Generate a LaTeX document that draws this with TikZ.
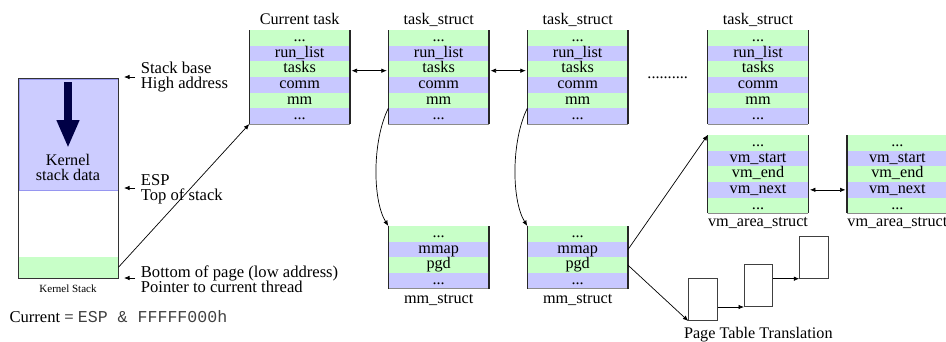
\documentclass[tikz,border=0pt]{standalone}
\usepackage{fontspec}
\setmainfont{Liberation Serif}
\setmonofont{Liberation Mono}
\usetikzlibrary{arrows.meta}
\definecolor{rowg}{RGB}{200,255,200}
\definecolor{rowb}{RGB}{200,200,255}
\definecolor{ksblue}{RGB}{204,204,255}
\definecolor{ksedge}{RGB}{150,150,240}
\definecolor{navy}{RGB}{0,0,70}
\tikzset{
  row/.style={minimum width=100.7pt, minimum height=15.67pt, inner sep=0pt, outer sep=0pt,
              text height=11pt, text depth=3.5pt, anchor=north west},
  side/.style={line width=1.2pt, black!85},
  bottomline/.style={line width=0.8pt, black!45},
  arr/.style={-{Latex[length=5.5pt,width=4.5pt]}, line width=0.7pt},
  darr/.style={{Latex[length=5.5pt,width=4.5pt]}-{Latex[length=5.5pt,width=4.5pt]}, line width=0.7pt, shorten <=1.5pt, shorten >=1.5pt},
  lbl/.style={inner sep=0pt, align=left, anchor=west, font=\fontsize{16.6pt}{15.2pt}\selectfont},
  ptbox/.style={draw=black!75, line width=1pt, minimum width=28.4pt, minimum height=41.7pt, inner sep=0pt, anchor=north west},
}
\newcommand{\tdots}{...}
\newcommand{\structbox}[5]{%
  \foreach \t [count=\i] in {#5} {
    \pgfmathsetmacro{\yy}{#3+(\i-1)*15.67}
    \ifodd\i\relax\def\cc{rowg}\else\def\cc{rowb}\fi
    \node[row, fill=\cc] (#1-\i) at (#2,\yy) {\t};
  }
  \draw[bottomline] (#1-#4.south west) -- (#1-#4.south east);
  \draw[side] (#1-1.north west) -- (#1-#4.south west);
  \draw[side] (#1-1.north east) -- (#1-#4.south east);
}
\begin{document}
\begin{tikzpicture}[x=1pt, y=-1pt, font=\fontsize{16.2pt}{14.4pt}\selectfont]
\useasboundingbox (0,0) rectangle (946,341);

% Kernel stack
\node[fill=rowg, minimum width=100pt, minimum height=21pt, inner sep=0pt, anchor=south west] (ksg) at (18,278) {};
\node[fill=ksblue, draw=ksedge, line width=0.8pt, minimum width=99pt, minimum height=111.5pt, inner sep=0pt, anchor=north west] (ksb) at (18.5,78.5) {};
\node[draw=black!80, line width=1.2pt, minimum width=100pt, minimum height=200pt, inner sep=0pt, anchor=north west] (ks) at (18,78) {};
\draw[navy, line width=8pt, -{Triangle[length=28pt,width=21pt]}] (68,82) -- (68,148);
\node[align=center, inner sep=0pt, font=\fontsize{16.2pt}{15pt}\selectfont] (kstext) at (68,167) {Kernel\\stack data};
\node[anchor=base, font=\fontsize{11pt}{13pt}\selectfont] (kslabel) at (68,292.7) {Kernel Stack};

% side labels
\node[lbl] (sbase) at (140.7,77) {Stack base\\High address};
\node[lbl] (esp) at (140.7,189.5) {ESP\\Top of stack};
\node[lbl] (bot) at (140.7,279) {Bottom of page (low address)\\Pointer to current thread};
\coordinate (a1) at (124,77);
\coordinate (a2) at (124,188);
\coordinate (a3) at (124,278);
\draw[arr, shorten <=5.5pt] (sbase.west) -- (a1);
\draw[arr, shorten <=5.5pt] (esp.west |- a2) -- (a2);
\draw[arr, shorten <=5.5pt] (bot.west |- a3) -- (a3);
\node[anchor=base west, inner sep=0pt, font=\fontsize{16.6pt}{14pt}\selectfont] (cur) at (9.3,322.7) {Current = {\color{black!75}\texttt{ESP \& FFFFF000h}}};

% task structs
\structbox{T1}{249.3}{30}{6}{\tdots,run\_list,tasks,comm,mm,\tdots}
\structbox{T2}{388.3}{30}{6}{\tdots,run\_list,tasks,comm,mm,\tdots}
\structbox{T3}{527.3}{30}{6}{\tdots,run\_list,tasks,comm,mm,\tdots}
\structbox{T4}{707.7}{30}{6}{\tdots,run\_list,tasks,comm,mm,\tdots}
\node[anchor=base] (t1t) at (299.65,24) {Current task};
\node[anchor=base] (t2t) at (438.65,24) {task\_struct};
\node[anchor=base] (t3t) at (577.65,24) {task\_struct};
\node[anchor=base] (t4t) at (758.05,24) {task\_struct};
\node[anchor=base] (dots) at (667.7,78) {..........};

% mm structs
\structbox{M1}{388.3}{226}{4}{\tdots,mmap,pgd,\tdots}
\structbox{M2}{527.3}{226}{4}{\tdots,mmap,pgd,\tdots}
\node[anchor=base] (m1t) at (438.65,303.3) {mm\_struct};
\node[anchor=base] (m2t) at (577.65,303.3) {mm\_struct};

% vm area structs
\structbox{V1}{707.7}{135}{5}{\tdots,vm\_start,vm\_end,vm\_next,\tdots}
\structbox{V2}{847}{135}{5}{\tdots,vm\_start,vm\_end,vm\_next,\tdots}
\node[anchor=base] (v1t) at (758.05,226.7) {vm\_area\_struct};
\node[anchor=base] (v2t) at (897.35,226.7) {vm\_area\_struct};

% page tables
\node[ptbox] (P1) at (688.3,278.3) {};
\node[ptbox] (P2) at (744,264.3) {};
\node[ptbox] (P3) at (799.3,236) {};
\node[anchor=base] (ptt) at (758.3,338) {Page Table Translation};

% connectors
\draw[arr] (ksg.east) -- (T1-6.south west);
\draw[darr] ([yshift=-1.5pt]T1-3.east) -- ([yshift=-1.5pt]T2-3.west);
\draw[darr] ([yshift=-1.5pt]T2-3.east) -- ([yshift=-1.5pt]T3-3.west);
\draw[arr] (T2-5.south west) .. controls +(-16,32) and +(-16,-26) .. (M1-1.north west);
\draw[arr] (T3-5.south west) .. controls +(-16,32) and +(-16,-26) .. (M2-1.north west);
\draw[arr] (M2-2.east) -- (V1-1.north west);
\draw[arr] (M2-3.east) -- (P1.south west);
\draw[darr] (V1-4.east) -- (V2-4.west);
\draw[arr] (P1.east |- P2.south) -- (P2.south west);
\draw[arr] (P2.east |- P3.south) -- (P3.south west);
\end{tikzpicture}
\end{document}
